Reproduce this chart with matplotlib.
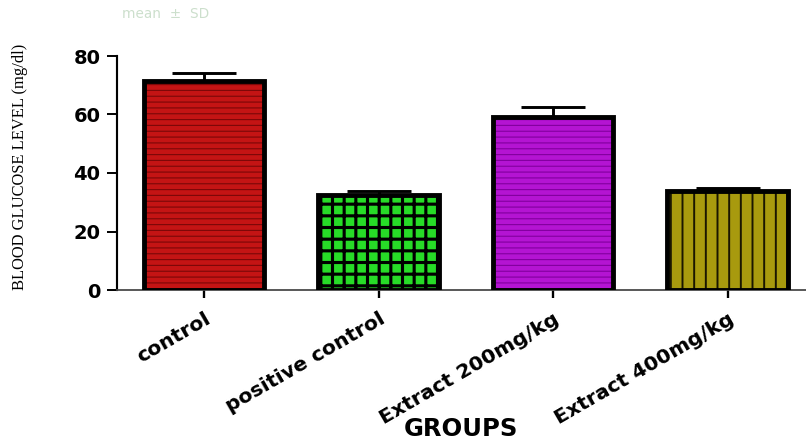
import matplotlib
matplotlib.use('Agg')
import matplotlib.pyplot as plt

groups = ['control', 'positive control', 'Extract 200mg/kg', 'Extract 400mg/kg']
glucose = [71.6, 32.6, 59.0, 33.8]
sem = [2.5, 1.4, 3.7, 1.2]

face_colors = ['#c41414', '#27dc27', '#b414d2', '#a89a0e']
hatch_colors = ['#7e0808', '#000000', '#8400a0', '#1a1600']
hatches = ['----', '++', '----', '||']
hatch_widths = [0.6, 1.6, 0.6, 1.0]

W, H, DPI = 806, 442, 140
fig = plt.figure(figsize=(W / DPI, H / DPI), dpi=DPI)
ax = fig.add_axes([117 / W, 1 - 290 / H, 1 - 117 / W, (290 - 56) / H])

x = list(range(len(groups)))

# hatched fills first, hatch colour comes from the edgecolor
fills = ax.bar(x, glucose, width=0.69, color=face_colors, edgecolor=hatch_colors,
               linewidth=0, zorder=2)
for bar, h, hw in zip(fills, hatches, hatch_widths):
    bar.set_hatch(h)
    if hasattr(bar, 'set_hatch_linewidth'):
        bar.set_hatch_linewidth(hw)

# thick black outlines
ax.bar(x, glucose, width=0.69, fill=False, edgecolor='black', linewidth=2.5, zorder=3)

ax.errorbar(x, glucose, yerr=[[0] * len(sem), sem], fmt='none', ecolor='black',
            elinewidth=1.5, capsize=16.5, capthick=1.5, zorder=4)

ax.set_xlim(-0.5, 3.45)
ax.set_ylim(0, 80)
ax.set_yticks([0, 20, 40, 60, 80])
ax.set_xticks(x)

ax.spines['top'].set_visible(False)
ax.spines['right'].set_visible(False)
ax.spines['left'].set_linewidth(1.1)
ax.spines['bottom'].set_linewidth(0.9)
ax.spines['bottom'].set_color('#444444')

ax.tick_params(axis='y', length=5, width=1.0, pad=3.5)
ax.tick_params(axis='x', length=4, width=1.2, pad=6.0)

for lab in ax.get_yticklabels():
    lab.set_fontfamily('DejaVu Sans')
    lab.set_fontweight('bold')
    lab.set_fontsize(10)

ax.set_xticklabels(groups, rotation=30, ha='right', va='top', rotation_mode='anchor',
                   fontfamily='DejaVu Sans', fontweight='bold', fontsize=10.5)

fig.text(20 / W, 1 - 167 / H, 'BLOOD GLUCOSE LEVEL (mg/dl)', rotation=90,
         ha='center', va='center', fontfamily='Liberation Serif', fontsize=8.5)

fig.text(461 / W, 1 - 441 / H, 'GROUPS', ha='center', va='bottom',
         fontfamily='DejaVu Sans', fontweight='bold', fontsize=12.5)

# faint caption at the very top of the image
fig.text(122 / W, 1 - 18 / H, 'mean  \u00b1  SD', ha='left', va='baseline',
         fontfamily='DejaVu Sans', fontsize=7, color='#8fb88f', alpha=0.45)

fig.savefig('out.png', dpi=DPI)
